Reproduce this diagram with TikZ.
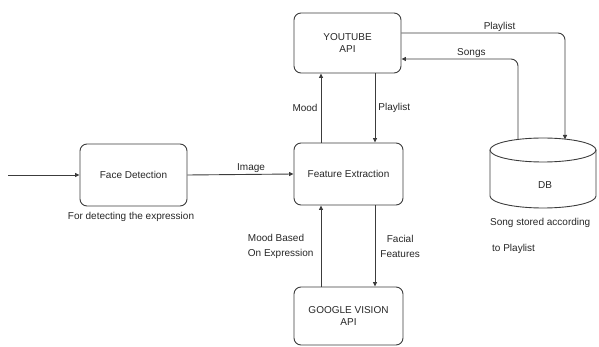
\documentclass[tikz,border=0pt]{standalone}
\usepackage{fontspec}
\setmainfont{Liberation Sans}
\usetikzlibrary{arrows.meta}
\definecolor{ln}{HTML}{3C3C3C}
\definecolor{tx}{HTML}{262626}
\tikzset{
  box/.style={draw=ln, line width=0.9pt, rounded corners=7pt, align=center, text=tx, font=\fontsize{10}{12}\selectfont, inner sep=0pt},
  lbl/.style={text=tx, font=\fontsize{10}{15}\selectfont, inner sep=1pt},
  arr/.style={draw=ln, line width=0.9pt, -{Triangle[length=4.5pt,width=4pt]}},
}
\begin{document}
\begin{tikzpicture}[x=1pt,y=-1pt]
\useasboundingbox (0,0) rectangle (599,347);
% boxes
\node[box, minimum width=107pt, minimum height=62pt] (fd) at (133.5,175) {Face Detection};
\node[box, minimum width=109pt, minimum height=62pt] (fe) at (348.5,174) {Feature Extraction};
\node[box, minimum width=107pt, minimum height=60pt] (yt) at (347.5,43) {YOUTUBE\\API};
\node[box, minimum width=109pt, minimum height=58pt] (gv) at (348.5,316) {GOOGLE VISION\\API};
% database cylinder
\draw[ln, line width=0.9pt] (490,150) arc[start angle=180, end angle=-180, x radius=53, y radius=12];
\draw[ln, line width=0.9pt] (490,150) -- (490,196) arc[start angle=180, end angle=0, x radius=53, y radius=12] -- (596,150);
\node[lbl] (db) at (545,185) {DB};
\coordinate (dbA) at (565,139.5);
\coordinate (dbB) at (518,139.5);
% helper coordinates
\coordinate (in) at (8,175);
\coordinate (xl) at (321,0);
\coordinate (xr) at (375,0);
\coordinate (yp) at (0,33);
\coordinate (ys) at (0,59);
% connectors
\draw[arr] (in) -- (fd.west);
\draw[arr] (fd.east) -- node[lbl, pos=0.6, above] {Image} (fe.west);
\draw[arr] (fe.north -| xl) -- node[lbl, left, xshift=-2pt] {Mood} (yt.south -| xl);
\draw[arr] (yt.south -| xr) -- node[lbl, right, xshift=2pt] {Playlist} (fe.north -| xr);
\draw[arr, rounded corners=7pt] (yt.east |- yp) -- node[lbl, above, pos=0.6] {Playlist} (dbA |- yp) -- (dbA);
\draw[arr, rounded corners=7pt] (dbB) -- (dbB |- ys) -- node[lbl, above, pos=0.4] {Songs} (yt.east |- ys);
\draw[arr] (gv.north -| xl) -- node[lbl, left, align=left, xshift=-6pt] {Mood Based\\On Expression} (fe.south -| xl);
\draw[arr] (fe.south -| xr) -- node[lbl, right, align=center, xshift=4pt] {Facial\\Features} (gv.north -| xr);
% free texts
\node[lbl] (fdnote) at (131,217) {For detecting the expression};
\node[lbl, anchor=west] (dbnote1) at (489,223) {Song stored according};
\node[lbl, anchor=west] (dbnote2) at (491,249) {to Playlist};
\end{tikzpicture}
\end{document}
